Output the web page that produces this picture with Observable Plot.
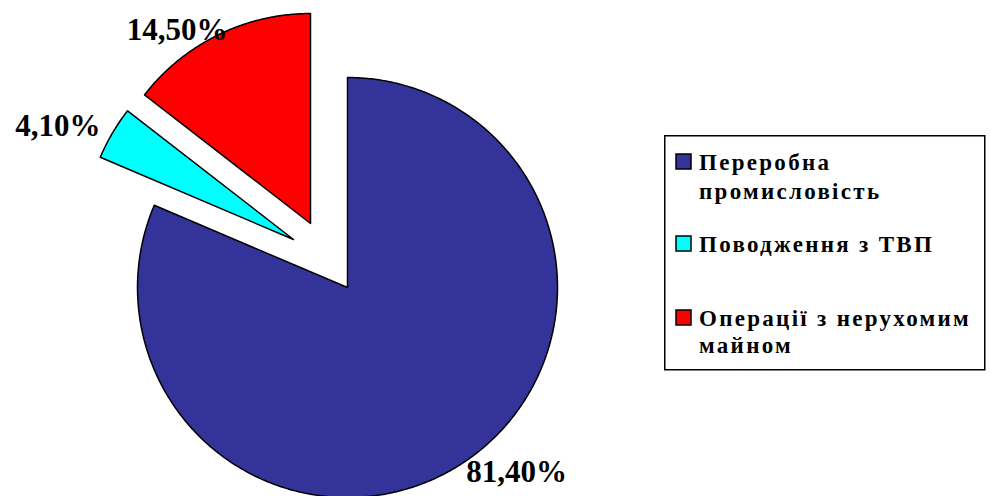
<!DOCTYPE html>
<html>
<head>
<meta charset="utf-8">
<script src="https://cdn.jsdelivr.net/npm/d3@7"></script>
<script src="https://cdn.jsdelivr.net/npm/@observablehq/plot@0.6"></script>
<style>
  html, body { margin: 0; padding: 0; background: #fff; }
  #wrap { position: relative; width: 991px; height: 496px; overflow: hidden; }
  #chart, #legend { position: absolute; left: 0; top: 0; }
</style>
</head>
<body>
<div id="wrap">
  <div id="chart"></div>
  <div id="legend"></div>
</div>
<script>
// ---- data ----
const categories = ["Переробна промисловість", "Поводження з ТВП", "Операції з нерухомим майном"];
const shares = [81.4, 4.1, 14.5];
const shareLabels = ["81,40%", "4,10%", "14,50%"];
const colors = ["#333399", "#00FFFF", "#FF0000"];
// legend line breaks (word counts per line)
const legendWrap = [[1, 1], [3], [3, 1]];

// ---- layout (pixels) ----
const W = 991, H = 496;
const cx = 347, cy = 287, R = 210;
const explode = [[0, 0], [-54, -48], [-37, -64]];        // slice offsets in px
const labelStyle = [
  {anchor: "start", dx: 3, dy: 9},
  {anchor: "end", dx: -12, dy: -7},
  {anchor: "end", dx: 9.5, dy: -5}
];
const serif = "'Liberation Serif', 'Times New Roman', serif";
const legendBox = {x: 664.75, y: 135.75, w: 320, h: 234};
const legendBaselines = [[170, 199], [252], [326, 353]];
const legendFont = 23, legendTextX = 699, legendTargetWidth = 272;

// ---- geometry from data ----
const total = d3.sum(shares);
let acc = 0;
const slices = categories.map((key, i) => {
  const a0 = acc / total * 2 * Math.PI;
  acc += shares[i];
  const a1 = acc / total * 2 * Math.PI;
  const ox = explode[i][0] / R, oy = -explode[i][1] / R;
  return {key, i, a0, a1, ox, oy, mid: (a0 + a1) / 2};
});
const pts = [];
for (const s of slices) {
  pts.push({key: s.key, x: s.ox, y: s.oy});
  const n = Math.max(2, Math.ceil((s.a1 - s.a0) / (Math.PI / 360)));
  for (let k = 0; k <= n; k++) {
    const a = s.a0 + (s.a1 - s.a0) * k / n;
    pts.push({key: s.key, x: s.ox + Math.sin(a), y: s.oy + Math.cos(a)});
  }
}

const labelMarks = slices.map(s => Plot.text([s], {
  x: d => d.ox + Math.sin(d.mid),
  y: d => d.oy + Math.cos(d.mid),
  text: d => shareLabels[d.i],
  textAnchor: labelStyle[s.i].anchor,
  dx: labelStyle[s.i].dx,
  dy: labelStyle[s.i].dy,
  fontSize: 31,
  fontWeight: "bold",
  fontFamily: serif,
  fill: "#000"
}));

const chart = Plot.plot({
  width: W,
  height: H,
  margin: 0,
  x: {domain: [-1, 1], range: [cx - R, cx + R], axis: null},
  y: {domain: [-1, 1], range: [cy + R, cy - R], axis: null},
  color: {domain: categories, range: colors},
  style: {background: "transparent", overflow: "visible"},
  marks: [
    Plot.line(pts, {x: "x", y: "y", z: "key", fill: "key", stroke: "#000", strokeWidth: 1.5, curve: "linear-closed"}),
    ...labelMarks
  ]
});
document.getElementById("chart").appendChild(chart);

// ---- legend ----
const lines = categories.map((c, i) => {
  const words = c.split(" ");
  let p = 0;
  return legendWrap[i].map(n => { const l = words.slice(p, p + n).join(" "); p += n; return l; });
});
const ctx = document.createElement("canvas").getContext("2d");
ctx.font = `bold ${legendFont}px ${serif}`;
const refLine = lines[2][0];
const measured = ctx.measureText(refLine).width;
const spacing = Math.max(-1, (legendTargetWidth - measured) / refLine.length);

const svg = d3.select("#legend").append("svg")
  .attr("width", W).attr("height", H);
svg.append("rect")
  .attr("x", legendBox.x).attr("y", legendBox.y)
  .attr("width", legendBox.w).attr("height", legendBox.h)
  .attr("fill", "#fff").attr("stroke", "#000").attr("stroke-width", 1.5);
categories.forEach((c, i) => {
  const b0 = legendBaselines[i][0];
  svg.append("rect")
    .attr("x", 676).attr("y", b0 - 16)
    .attr("width", 15).attr("height", 15)
    .attr("fill", colors[i]).attr("stroke", "#000").attr("stroke-width", 1.5);
  lines[i].forEach((l, j) => {
    svg.append("text")
      .attr("x", legendTextX).attr("y", legendBaselines[i][j])
      .attr("font-family", serif).attr("font-weight", "bold")
      .attr("font-size", legendFont).attr("letter-spacing", spacing)
      .attr("fill", "#000")
      .text(l);
  });
});
</script>
</body>
</html>
